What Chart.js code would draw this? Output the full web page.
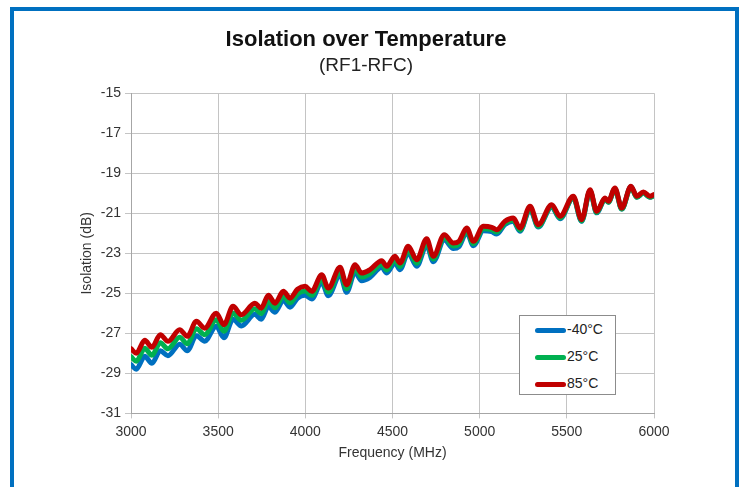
<!DOCTYPE html>
<html>
<head>
<meta charset="utf-8">
<script src="https://cdn.jsdelivr.net/npm/chart.js@4.4.1/dist/chart.umd.min.js"></script>
<style>
    html, body { margin: 0; padding: 0; background: #fff; overflow: hidden; }
    #frame {
        position: absolute; left: 10px; top: 7px; width: 729px; height: 520px;
        box-sizing: border-box; border: 4px solid #0070C0;
    }
    #chart { position: absolute; left: 0; top: 0; }
    #legend {
        position: absolute; left: 519px; top: 315px; width: 97px; height: 80px;
        box-sizing: border-box; border: 1px solid #8c8c8c; background: #fff;
        font-family: "Liberation Sans", Arial, sans-serif; font-size: 14px; color: #222;
    }
    .row { position: absolute; left: 15px; height: 16px; line-height: 16px; white-space: nowrap; }
    .swatch { display: inline-block; width: 31px; height: 5px; border-radius: 3px; vertical-align: middle; margin-right: 1px; }
</style>
</head>
<body>
<div id="frame"></div>
<canvas id="chart" width="740" height="487"></canvas>
<div id="legend"></div>
<script>
    'use strict';

    // Frequency (MHz) at peaks / troughs of the ripple
    const FREQ = [
        3000, 3030, 3079, 3120, 3168, 3212, 3279, 3323, 3375, 3423,
        3489, 3533, 3585, 3633, 3710, 3747, 3788, 3826, 3874, 3912,
        3955,
        3998, 4037, 4094, 4132, 4199, 4237, 4285, 4323, 4371, 4438,
        4467, 4514, 4543, 4590, 4639, 4696, 4734, 4797, 4849, 4881,
        4926, 4964, 5021, 5069, 5098, 5145, 5193, 5231, 5289, 5336,
        5413, 5461, 5537, 5585, 5633, 5671, 5719, 5738, 5776, 5815,
        5868, 5901, 5939, 5977, 6000
    ];

    // Isolation (dB) per temperature
    const ISO_M40 = [
        -28.57, -28.79, -28.15, -28.50, -27.87, -28.12, -27.54, -27.87, -27.12, -27.39,
        -26.64, -27.22, -26.30, -26.63, -26.05, -26.30, -25.66, -25.94, -25.35, -25.69,
        -25.25,
        -25.10, -25.28, -24.45, -25.12, -24.08, -24.95, -23.95, -24.37, -24.20, -23.70,
        -23.98, -23.48, -23.82, -22.98, -23.65, -22.60, -23.42, -22.34, -22.76, -22.67,
        -21.96, -22.62, -21.87, -21.92, -22.04, -21.56, -21.40, -21.90, -20.81, -21.69,
        -20.69, -21.27, -20.23, -21.40, -19.90, -20.98, -20.29, -20.45, -19.79, -20.79,
        -19.66, -20.20, -19.99, -20.20, -20.12
    ];
    const ISO_25 = [
        -28.17, -28.39, -27.75, -28.10, -27.47, -27.77, -27.19, -27.52, -26.77, -27.07,
        -26.32, -26.90, -25.98, -26.35, -25.77, -26.02, -25.38, -25.72, -25.13, -25.47,
        -25.03,
        -24.88, -25.10, -24.27, -24.94, -23.90, -24.77, -23.77, -24.19, -24.02, -23.55,
        -23.83, -23.33, -23.67, -22.83, -23.50, -22.45, -23.29, -22.21, -22.63, -22.54,
        -21.86, -22.52, -21.77, -21.82, -21.94, -21.50, -21.34, -21.84, -20.75, -21.65,
        -20.65, -21.23, -20.21, -21.38, -19.88, -20.96, -20.29, -20.45, -19.79, -20.79,
        -19.70, -20.20, -19.99, -20.20, -20.12
    ];
    const ISO_85 = [
        -27.77, -27.99, -27.35, -27.70, -27.07, -27.40, -26.82, -27.15, -26.40, -26.74,
        -25.99, -26.57, -25.65, -26.07, -25.49, -25.74, -25.10, -25.49, -24.90, -25.24,
        -24.80,
        -24.65, -24.90, -24.07, -24.74, -23.70, -24.57, -23.57, -23.99, -23.82, -23.37,
        -23.65, -23.15, -23.49, -22.65, -23.32, -22.27, -23.15, -22.07, -22.49, -22.40,
        -21.74, -22.40, -21.65, -21.70, -21.82, -21.40, -21.24, -21.74, -20.65, -21.57,
        -20.57, -21.15, -20.15, -21.32, -19.82, -20.90, -20.24, -20.40, -19.74, -20.74,
        -19.65, -20.15, -19.94, -20.15, -20.07
    ];

    const SERIES_LABELS = ['-40\u00B0C', '25\u00B0C', '85\u00B0C'];
    const SERIES_COLORS = ['#0070C0', '#00B050', '#C00000'];

    const X_TICKS = [3000, 3500, 4000, 4500, 5000, 5500, 6000];
    const Y_TICKS = [-31, -29, -27, -25, -23, -21, -19, -17, -15];

    const FONT = '"Liberation Sans", Arial, sans-serif';
    const GRID = '#c4c4c4';

    function toPoints(values) {
        return FREQ.map((f, i) => ({ x: f, y: values[i] }));
    }

    const seriesValues = [ISO_M40, ISO_25, ISO_85];

    // red on top, blue underneath (lower order draws last)
    const datasets = seriesValues.map((vals, i) => ({
        label: SERIES_LABELS[i],
        data: toPoints(vals),
        borderColor: SERIES_COLORS[i],
        backgroundColor: SERIES_COLORS[i],
        borderWidth: 5,
        borderCapStyle: 'round',
        borderJoinStyle: 'round',
        pointRadius: 0,
        cubicInterpolationMode: 'monotone',
        order: 3 - i
    }));

    const chart = new Chart(document.getElementById('chart'), {
        type: 'line',
        data: { datasets },
        options: {
            responsive: false,
            animation: false,
            layout: { padding: { left: 78, right: 86, top: 10, bottom: 25 } },
            scales: {
                x: {
                    type: 'linear',
                    min: X_TICKS[0],
                    max: X_TICKS[X_TICKS.length - 1],
                    afterBuildTicks: function (scale) {
                        scale.ticks = X_TICKS.map(v => ({ value: v }));
                    },
                    grid: { color: GRID, lineWidth: 1, tickLength: 5 },
                    border: { color: '#a6a6a6', width: 1 },
                    ticks: {
                        padding: 5,
                        color: '#333',
                        maxRotation: 0,
                        font: { family: FONT, size: 14 },
                        callback: v => String(v)
                    },
                    title: {
                        display: true,
                        text: 'Frequency (MHz)',
                        color: '#333',
                        font: { family: FONT, size: 14 },
                        padding: { top: 0, bottom: 0 }
                    }
                },
                y: {
                    min: Y_TICKS[0],
                    max: Y_TICKS[Y_TICKS.length - 1],
                    afterBuildTicks: function (scale) {
                        scale.ticks = Y_TICKS.map(v => ({ value: v }));
                    },
                    afterFit: function (scale) { scale.width = 53; },
                    grid: { color: GRID, lineWidth: 1, tickLength: 6 },
                    border: { color: '#a6a6a6', width: 1 },
                    ticks: {
                        padding: 4,
                        color: '#333',
                        font: { family: FONT, size: 14 },
                        callback: v => String(v)
                    },
                    title: {
                        display: true,
                        text: 'Isolation (dB)',
                        color: '#333',
                        font: { family: FONT, size: 14 },
                        padding: { top: 1, bottom: 0 }
                    }
                }
            },
            plugins: {
                legend: { display: false },
                tooltip: { enabled: false },
                title: {
                    display: true,
                    text: 'Isolation over Temperature',
                    color: '#111',
                    font: { family: FONT, size: 22, weight: 'bold' },
                    padding: { top: 17, bottom: 0 }
                },
                subtitle: {
                    display: true,
                    text: '(RF1-RFC)',
                    color: '#222',
                    font: { family: FONT, size: 19 },
                    padding: { top: 1, bottom: 16 }
                }
            }
        }
    });

    // Legend box inside the plot, built from the datasets
    (function buildLegend() {
        const box = document.getElementById('legend');
        chart.data.datasets.forEach(function (ds, i) {
            const row = document.createElement('div');
            row.className = 'row';
            row.style.top = (5 + i * 27) + 'px';
            const sw = document.createElement('span');
            sw.className = 'swatch';
            sw.style.background = ds.borderColor;
            row.appendChild(sw);
            row.appendChild(document.createTextNode(ds.label));
            box.appendChild(row);
        });
    })();
</script>
</body>
</html>
